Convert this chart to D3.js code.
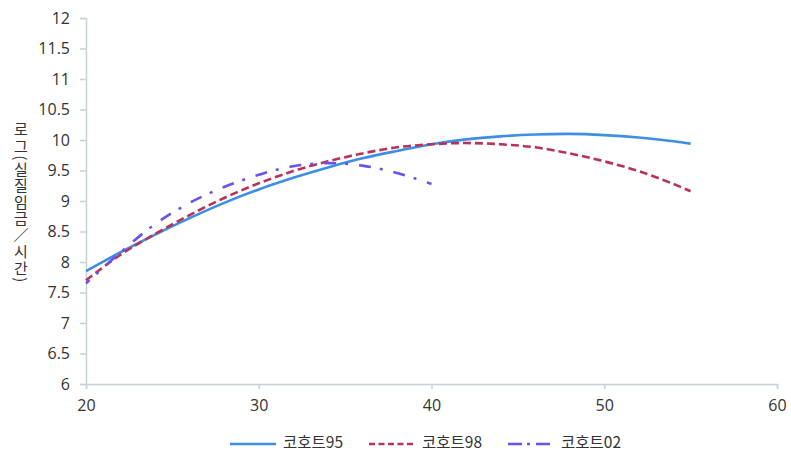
<!DOCTYPE html>
<html><head><meta charset="utf-8">
<script src="https://cdn.jsdelivr.net/npm/d3@7"></script>
<style>
body{margin:0;background:#fff;}
text{font-family:"Open Sans","Noto Sans CJK KR",sans-serif;fill:#333;}
</style></head>
<body><svg id="c" width="791" height="452"></svg>
<script>
const ages95 = [20,22,24,26,28,30,32,34,36,38,40,42,44,46,48,50,52,54,55];
const cohort95 = [7.85,8.16,8.45,8.72,8.97,9.19,9.38,9.55,9.70,9.82,9.93,10.01,10.06,10.09,10.10,10.08,10.04,9.98,9.94];
const ages98 = [20,22,24,26,28,30,32,34,36,38,40,42,44,46,48,50,52,54,55];
const cohort98 = [7.70,8.12,8.46,8.77,9.05,9.29,9.49,9.65,9.78,9.88,9.93,9.95,9.93,9.88,9.78,9.65,9.49,9.28,9.16];
const ages02 = [20,22,24,26,28,30,32,34,36,38,40];
const cohort02 = [7.65,8.16,8.62,8.97,9.23,9.43,9.57,9.62,9.58,9.46,9.28];
const seriesNames = ["코호트95","코호트98","코호트02"];
const xTicks = [20,30,40,50,60];
const yTicks = [6,6.5,7,7.5,8,8.5,9,9.5,10,10.5,11,11.5,12];
const yLabel = "로그(실질임금／시간)";

const svg = d3.select("#c");
const x = d3.scaleLinear().domain([20,60]).range([86,777]);
const y = d3.scaleLinear().domain([6,12]).range([384,18]);
const axisColor = "#c5d3d8";

const xa = svg.append("g").attr("transform","translate(0,384)")
  .call(d3.axisBottom(x).tickValues(xTicks).tickSize(5).tickPadding(11).tickFormat(d3.format("d")));
const ya = svg.append("g").attr("transform","translate(86,0)")
  .call(d3.axisLeft(y).tickValues(yTicks).tickSize(6).tickPadding(10).tickFormat(d=>String(d)));
[xa,ya].forEach(g=>{
  g.select(".domain").attr("stroke",axisColor).attr("stroke-width",1.5);
  g.selectAll(".tick line").attr("stroke",axisColor).attr("stroke-width",1.5);
  g.selectAll(".tick text").style("font-size","16px").attr("fill","#333").style("font-family","'Open Sans',sans-serif");
});
ya.selectAll(".tick text").attr("x",-16);

const styles = [
  {color:"#3e8ee6", dash:null},
  {color:"#b83354", dash:"8,4"},
  {color:"#6a52ec", dash:"12,9,3,11"}
];
const data = [
  ages95.map((a,i)=>[a,cohort95[i]]),
  ages98.map((a,i)=>[a,cohort98[i]]),
  ages02.map((a,i)=>[a,cohort02[i]])
];
const line = d3.line().x(d=>x(d[0])).y(d=>y(d[1])).curve(d3.curveCatmullRom);
data.forEach((d,i)=>{
  const p = svg.append("path").datum(d).attr("d",line).attr("fill","none")
    .attr("stroke",styles[i].color).attr("stroke-width",2.6)
    .attr("stroke-dasharray",styles[i].dash);
  if (i===2) {
    const L = p.node().getTotalLength();
    p.attr("stroke-dashoffset", (35 - (L % 35) + 5) % 35);
  }
});

// y label (vertical)
svg.append("text").attr("x",21).attr("y",203)
  .attr("text-anchor","middle")
  .style("writing-mode","vertical-rl")
  .style("font-family","'Noto Sans CJK KR',sans-serif")
  .style("font-size","15px")
  .style("letter-spacing","1.5px")
  .text(yLabel);

// legend
const legX = [230,369,508];
const lg = svg.append("g");
seriesNames.forEach((n,i)=>{
  lg.append("line").attr("x1",legX[i]).attr("x2",legX[i]+46).attr("y1",444).attr("y2",444)
    .attr("stroke",styles[i].color).attr("stroke-width",2.6)
    .attr("stroke-dasharray",i==1?"6,3.5":(i==2?"14,5,3,6":null));
  lg.append("text").attr("x",legX[i]+53).attr("y",441).attr("dominant-baseline","central")
    .style("font-size","15.5px").style("font-family","'Noto Sans CJK KR','Open Sans',sans-serif").text(n);
});
</script></body></html>
